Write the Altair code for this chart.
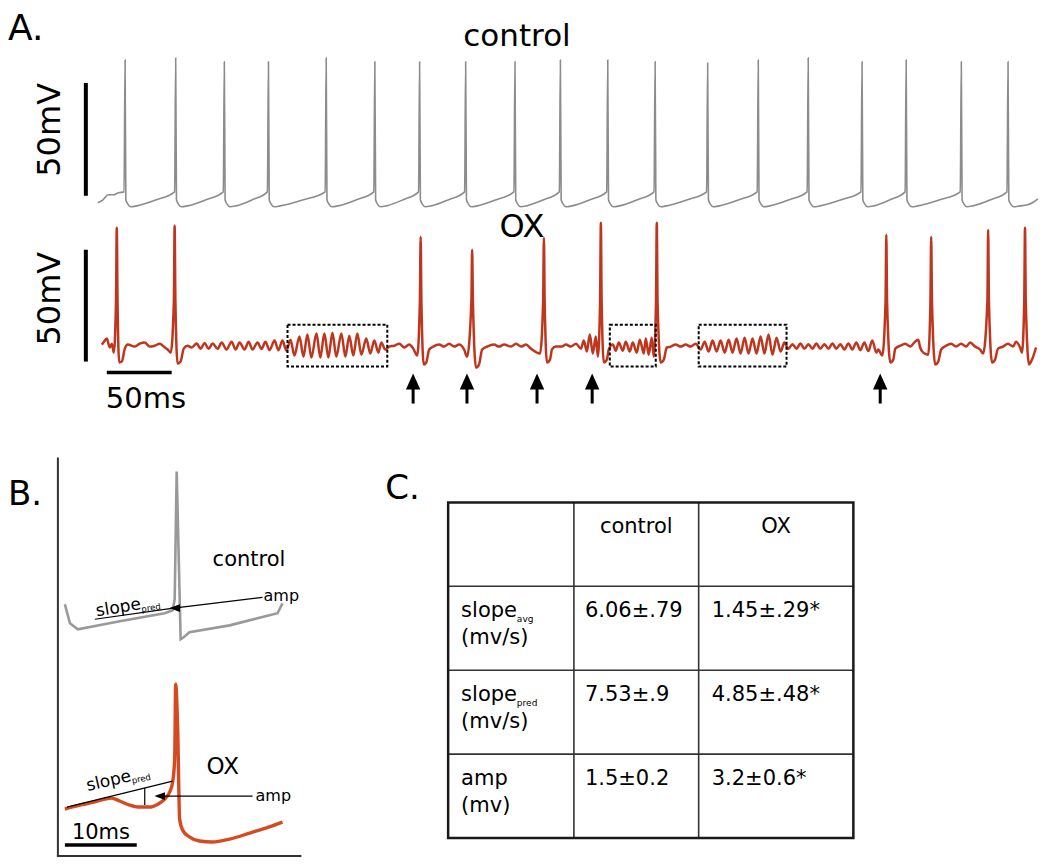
import math
import altair as alt
import pandas as pd

FONT = "DejaVu Sans"

# ---------------- Panel A : control trace (ms, mV) ----------------
CTRL_SPIKE_T = [21, 60, 97.5, 131.5, 176, 213.5, 248, 283.5, 321.5, 356.5,
                393, 429.5, 470, 509, 547.5, 589, 623, 665.5, 701.5]
CTRL_SPIKE_PEAK = [0.0, 0.9, -0.8, -0.8, 0.9, -0.8, -0.8, -0.8, -0.8, 0.0,
                   0.0, -0.8, -1.3, 0.0, 0.9, -0.8, 0.0, -0.8, -0.8]
CTRL_START_T = [0, 4, 8, 12, 16]
CTRL_START_V = [-63.2, -61.9, -59.7, -59.7, -58.8]
CTRL_THRESHOLD = -58.4
CTRL_AHP_DT = [0.6, 2.0, 4.5, 9.0]
CTRL_AHP_V = [-61.9, -63.7, -65.0, -64.6]
CTRL_RAMP_MID_V = -62.0
CTRL_END_T = [716, 721, 724.5]
CTRL_END_V = [-64.2, -63.0, -61.5]

# ---------------- Panel A : OX trace (ms, mV) ----------------
OX_SPIKE_T = [14.6, 59.2, 248.8, 288.5, 343.8, 387.7, 430.8, 607.7, 642.3, 686.2, 714.6]
OX_SPIKE_PEAK = [-6.9, -6.0, -10.9, -16.7, -11.3, -4.6, -4.6, -10.0, -10.9, -7.8, -6.9]
OX_SPIKE_HALF_DT = 0.6      # half width of the spike at about -40 mV
OX_SPIKE_HALF_V = -40.0
OX_T = [3.1, 5.4, 6.9, 9.2, 10.8, 12.3, 16.5, 18.5, 20.8, 23.1,
        28.5, 32.3, 36.2, 40.0, 43.8, 47.7, 50.8, 53.8, 56.2,
        61.5, 63.8, 66.2, 69.2,
        72.3, 76.2, 79.2, 82.3, 85.4, 88.5, 92.3, 95.4, 99.2, 103.1, 106.2, 109.2,
        113.1, 116.2, 119.2, 123.1, 126.2, 129.2, 132.3, 136.2, 139.2, 142.3, 145.4,
        148.5, 151.5, 155.4, 158.5, 161.5, 164.6, 168.5, 171.5, 174.6, 177.7, 180.8,
        183.8, 187.7, 190.8, 193.8, 196.9, 200.0, 203.1, 206.9, 210.0, 213.1, 216.2,
        218.5, 221.5,
        224.6, 228.5, 232.3, 236.2, 240.0, 243.1, 246.2,
        251.2, 253.1, 255.4, 258.5,
        263.1, 266.9, 270.8, 274.6, 278.5, 282.3, 284.6,
        291.5, 293.8, 296.2, 300.0,
        305.4, 309.2, 313.1, 318.5, 322.3, 326.2, 330.0, 333.8, 340.8,
        346.2, 348.5, 350.0, 353.1,
        357.7, 360.8, 364.6, 368.5, 372.3, 374.6, 376.9, 379.2, 381.5, 383.8, 385.4,
        390.0, 392.3, 393.8,
        396.9, 399.2, 401.5, 404.6, 406.9, 410.0, 412.3, 415.4, 417.7, 420.8, 422.3,
        424.6, 426.9, 428.5,
        433.8, 436.2, 438.5,
        441.5, 445.4, 449.2, 453.1, 456.9, 460.8,
        464.6, 467.7, 470.8, 473.8, 476.9, 480.0, 483.1, 486.2, 489.2, 492.3, 495.4,
        498.5, 501.5, 504.6, 507.7, 510.8, 513.8, 516.9, 520.0, 523.1, 526.2, 529.2,
        532.3, 535.4, 538.5, 541.5, 544.6, 547.7, 550.8, 553.8, 556.9, 560.0, 563.1,
        566.2, 569.2, 572.3, 575.4, 578.5, 581.5, 584.6, 587.7, 590.8, 593.8, 596.9,
        600.0, 601.5, 604.6,
        610.8, 613.1, 614.6,
        618.5, 622.3, 626.2, 629.2, 632.3, 633.8, 636.2, 640.0,
        645.4, 647.7, 650.0,
        653.8, 657.7, 661.5, 665.4, 669.2, 672.3, 676.2, 680.0, 682.3,
        689.2, 691.5, 693.8,
        697.7, 701.5, 705.4, 707.7, 710.8, 712.3,
        717.7, 720.0, 723.1]
OX_V = [-59.1, -57.3, -56.4, -60.4, -58.7, -62.7, -67.1, -66.7, -60.9, -59.1,
        -60.0, -58.7, -58.2, -60.0, -59.6, -58.7, -60.0, -61.3, -62.7,
        -67.6, -66.7, -60.9, -59.6,
        -60.4, -58.6, -61.0, -58.4, -61.0, -58.6, -61.0, -58.2, -61.3, -57.8, -61.3, -58.2,
        -61.3, -57.8, -61.3, -58.2, -61.0, -57.8, -61.6, -57.3, -61.6, -57.3, -61.8,
        -56.9, -64.0, -55.5, -64.5, -54.6, -64.9, -54.2, -64.9, -54.2, -64.9, -53.8,
        -64.5, -54.2, -64.5, -55.1, -64.0, -54.2, -63.6, -56.4, -63.1, -57.3, -62.7,
        -58.2, -61.3,
        -60.0, -59.6, -58.7, -60.4, -59.1, -60.9, -64.0,
        -68.0, -67.1, -61.3, -60.0,
        -59.1, -60.0, -58.7, -60.0, -59.1, -61.3, -64.5,
        -69.4, -68.0, -61.3, -60.0,
        -59.1, -60.0, -59.1, -60.0, -58.7, -60.0, -59.1, -60.9, -63.1,
        -67.1, -65.8, -61.3, -60.0,
        -60.0, -59.1, -60.0, -58.7, -60.9, -57.3, -62.2, -54.6, -63.1, -55.5, -64.5,
        -67.1, -65.8, -61.3,
        -59.1, -61.8, -58.2, -61.8, -57.8, -62.2, -58.2, -62.7, -56.9, -63.1, -56.4,
        -63.6, -56.0, -64.5,
        -67.1, -65.8, -60.4,
        -60.0, -59.1, -60.0, -59.1, -60.0, -58.7,
        -61.3, -57.8, -62.2, -57.3, -62.2, -57.3, -62.7, -56.9, -62.7, -56.4, -63.1,
        -56.0, -63.1, -56.4, -63.1, -55.5, -63.1, -54.6, -63.6, -56.0, -62.2, -58.2,
        -61.0, -58.9, -61.0, -58.6, -61.0, -58.9, -61.0, -58.6, -61.0, -58.9, -61.0,
        -58.6, -61.0, -58.9, -61.3, -58.6, -61.3, -58.2, -61.6, -58.2, -62.0, -57.3,
        -62.7, -61.3, -64.0,
        -67.1, -65.8, -60.9,
        -59.6, -58.7, -60.0, -58.2, -56.9, -60.4, -62.7, -63.6,
        -68.0, -66.7, -61.3,
        -59.6, -58.7, -60.0, -58.7, -60.0, -58.2, -60.0, -61.3, -63.1,
        -67.1, -65.8, -60.9,
        -60.0, -58.7, -60.0, -57.8, -60.4, -62.7,
        -68.0, -65.8, -60.4]
OX_ARROW_T = [243.0, 284.5, 338.5, 381.0, 603.0]
OX_BOX_START = [146.2, 394.6, 463.1]
OX_BOX_END = [223.1, 430.0, 530.8]

# ---------------- Panel B : averaged spikes (ms, mV) ----------------
B_CTRL_T = [0.97, 1.67, 2.78, 8.6, 14.86, 15.97, 16.25, 16.53, 17.08, 17.5, 18.3, 23.9, 30.56, 31.25]
B_CTRL_V = [-54.7, -62.5, -65.0, -61.7, -58.4, -57.2, -52.7, 0.0, -69.1, -68.3, -66.2, -63.4, -58.4, -54.3]
B_OX_T = [0.97, 3.06, 5.14, 6.53, 7.5, 8.6, 10.0, 11.4, 12.8, 13.9, 14.86, 15.56, 15.97,
          16.25, 16.39, 16.67, 16.94, 17.36, 18.3, 19.7, 21.5, 23.9, 26.7, 29.4, 31.25]
B_OX_V = [-51.4, -49.8, -48.5, -47.3, -46.9, -48.1, -49.8, -50.6, -50.6, -49.4, -47.3, -44.4, -40.3,
          -30.8, 0.0, -18.5, -55.5, -60.1, -62.9, -64.6, -65.0, -63.8, -61.3, -58.8, -56.8]

# ---------------- Panel C : table ----------------
TABLE_COLS = ["control", "OX"]
TABLE_ROW_NAMES = ["slope", "slope", "amp"]
TABLE_ROW_SUBS = ["avg", "pred", ""]
TABLE_ROW_UNITS = ["(mv/s)", "(mv/s)", "(mv)"]
TABLE_CONTROL = ["6.06±.79", "7.53±.9", "1.5±0.2"]
TABLE_OX = ["1.45±.29*", "4.85±.48*", "3.2±0.6*"]

# ---------------- helpers ----------------
XS = alt.Scale(domain=[8, 1042], nice=False, zero=False)
YS = alt.Scale(domain=[8, 858], reverse=True, nice=False, zero=False)


def X(f="x"):
    return alt.X(f, type="quantitative", scale=XS, axis=None)


def Y(f="y"):
    return alt.Y(f, type="quantitative", scale=YS, axis=None)


def one(**kw):
    return pd.DataFrame({k: [v] for k, v in kw.items()})


def text(s, x, y, size, align="left", baseline="alphabetic", angle=0, color="black"):
    return alt.Chart(one(x=x, y=y)).mark_text(
        text=s, font=FONT, fontSize=size, align=align, baseline=baseline,
        angle=angle % 360, color=color).encode(x=X(), y=Y())


def seg(x1, y1, x2, y2, w, color="black"):
    return alt.Chart(one(x=x1, y=y1, x2=x2, y2=y2)).mark_rule(
        strokeWidth=w, color=color).encode(x=X(), y=Y(), x2=alt.X2("x2"), y2=alt.Y2("y2"))


def sym(x, y, shape, size, color="black"):
    return alt.Chart(one(x=x, y=y)).mark_point(
        shape=shape, size=size, filled=True, opacity=1, color=color, strokeWidth=0).encode(x=X(), y=Y())


layers = []

# ---- control trace A ----
ct, cv = list(CTRL_START_T), list(CTRL_START_V)
for k, (ts, pk) in enumerate(zip(CTRL_SPIKE_T, CTRL_SPIKE_PEAK)):
    ct += [ts - 0.8, ts]
    cv += [CTRL_THRESHOLD, pk]
    ct += [ts + d for d in CTRL_AHP_DT]
    cv += CTRL_AHP_V
    if k + 1 < len(CTRL_SPIKE_T):
        ct.append((ts + 9 + CTRL_SPIKE_T[k + 1] - 0.8) / 2)
        cv.append(CTRL_RAMP_MID_V)
ct += CTRL_END_T
cv += CTRL_END_V
ctrl_df = pd.DataFrame({"t": ct, "v": cv, "i": range(len(ct))})
layers.append(alt.Chart(ctrl_df).transform_calculate(
    px="98 + 1.3 * datum.t", py="207 - (datum.v + 65) * 2.26"
).mark_line(color="#8c8c8c", strokeWidth=1.6, interpolate="monotone").encode(
    x=X("px"), y=Y("py"), order=alt.Order("i:Q")))

# ---- OX trace A ----
ox_pts = list(zip(OX_T, OX_V)) + list(zip(OX_SPIKE_T, OX_SPIKE_PEAK))
ox_pts += [(t - OX_SPIKE_HALF_DT, OX_SPIKE_HALF_V) for t in OX_SPIKE_T]
ox_pts += [(t + OX_SPIKE_HALF_DT, OX_SPIKE_HALF_V) for t in OX_SPIKE_T]
ox_pts = sorted(ox_pts)
ox_df = pd.DataFrame({"t": [p[0] for p in ox_pts], "v": [p[1] for p in ox_pts], "i": range(len(ox_pts))})
layers.append(alt.Chart(ox_df).transform_calculate(
    px="98 + 1.3 * datum.t", py="347 - (datum.v + 60) * 2.24"
).mark_line(color="#bf361e", strokeWidth=2.5, interpolate="monotone").encode(
    x=X("px"), y=Y("py"), order=alt.Order("i:Q")))

# dotted boxes
box_df = pd.DataFrame({"t0": OX_BOX_START, "t1": OX_BOX_END})
layers.append(alt.Chart(box_df).transform_calculate(
    x0="98 + 1.3 * datum.t0", x1="98 + 1.3 * datum.t1", y0="325", y1="367"
).mark_rect(fillOpacity=0, stroke="black", strokeWidth=2, strokeDash=[3, 2]).encode(
    x=X("x0"), x2=alt.X2("x1"), y=Y("y0"), y2=alt.Y2("y1")))

# arrows
arr_df = pd.DataFrame({"t": OX_ARROW_T})
layers.append(alt.Chart(arr_df).transform_calculate(
    px="98 + 1.3 * datum.t", y0="389", y1="404"
).mark_rule(strokeWidth=3, color="black").encode(x=X("px"), y=Y("y0"), y2=alt.Y2("y1")))
layers.append(alt.Chart(arr_df).transform_calculate(
    px="98 + 1.3 * datum.t", py="382"
).mark_point(shape="M0,-1L-0.9,1L0.9,1Z", size=256, filled=True, opacity=1,
             color="black", strokeWidth=0).encode(x=X("px"), y=Y("py")))

# scale bars and labels panel A
layers += [
    seg(86, 83, 86, 196, 4),
    seg(86, 250, 86, 362, 4),
    seg(107, 373, 172, 373, 3.5),
    text("A.", 8, 40, 36),
    text("control", 518, 46, 31, align="center"),
    text("OX", 523, 237, 32, align="center"),
    text("50mV", 50, 130, 32, align="center", baseline="middle", angle=-90),
    text("50mV", 50, 299, 32, align="center", baseline="middle", angle=-90),
    text("50ms", 106, 408, 29),
]

# ---- Panel B ----
bc_df = pd.DataFrame({"t": B_CTRL_T, "v": B_CTRL_V, "i": range(len(B_CTRL_T))})
layers.append(alt.Chart(bc_df).transform_calculate(
    px="58 + 7.2 * datum.t", py="630 - (datum.v + 65) * 2.43"
).mark_line(color="#999999", strokeWidth=2.6).encode(x=X("px"), y=Y("py"), order=alt.Order("i:Q")))
bo_df = pd.DataFrame({"t": B_OX_T, "v": B_OX_V, "i": range(len(B_OX_T))})
layers.append(alt.Chart(bo_df).transform_calculate(
    px="58 + 7.2 * datum.t", py="843 - (datum.v + 65) * 2.43"
).mark_line(color="#d64a22", strokeWidth=3.4, interpolate="monotone").encode(
    x=X("px"), y=Y("py"), order=alt.Order("i:Q")))


def rot_sub(x, y, main, sub, size, angle_deg):
    a = math.radians(angle_deg)
    w = 2.66 * size
    sx = x + w * math.cos(a) + 3 * math.sin(a)
    sy = y - w * math.sin(a) + 3 * math.cos(a)
    return [text(main, x, y, size, angle=-angle_deg),
            text(sub, sx, sy, size * 0.5, angle=-angle_deg)]


layers += [
    seg(58, 458, 58, 858, 2, "#333333"),
    seg(57, 857, 302, 857, 2, "#333333"),
    seg(65, 846, 137, 846, 3.5),
    text("B.", 8, 506, 34),
    text("control", 213, 567, 21),
    text("OX", 207, 775, 23),
    text("10ms", 72, 840, 21),
    # control annotations
    seg(95, 620, 172, 609, 1.2),
    seg(263, 598, 176, 608.5, 1.2),
    sym(175, 608.8, "M-1,0L1,-0.75L1,0.75Z", 110),
    text("amp", 264, 597, 16, baseline="middle"),
    # OX annotations
    seg(67, 808, 173, 782, 1.2),
    seg(145, 789, 145, 806, 1.2),
    seg(253, 797, 162, 797, 1.2),
    sym(160, 797, "M-1,0L1,-0.75L1,0.75Z", 110),
    text("amp", 256, 797, 16, baseline="middle"),
]
layers += rot_sub(97, 617, "slope", "pred", 17, 9)
layers += rot_sub(88, 792, "slope", "pred", 17, 13)

# ---- Panel C table ----
XL = [449, 575, 700, 855]
YL = [503, 587, 671, 755, 839]
layers.append(text("C.", 386, 500, 34))
for x in XL[1:-1]:
    layers.append(seg(x, YL[0], x, YL[-1], 1.6, "#333333"))
for y in YL[1:-1]:
    layers.append(seg(XL[0], y, XL[-1], y, 1.6, "#333333"))
layers.append(alt.Chart(one(x=XL[0], y=YL[0], x2=XL[-1], y2=YL[-1])).mark_rect(
    fillOpacity=0, stroke="#1a1a1a", strokeWidth=2.5).encode(x=X(), y=Y(), x2=alt.X2("x2"), y2=alt.Y2("y2")))
TS = 21
for j, col in enumerate(TABLE_COLS):
    layers.append(text(col, (XL[j + 1] + XL[j + 2]) / 2, YL[0] + 25, TS, align="center", baseline="middle"))
for r in range(3):
    y0 = YL[r + 1]
    layers.append(text(TABLE_ROW_NAMES[r], XL[0] + 13, y0 + 25, TS, baseline="middle"))
    if TABLE_ROW_SUBS[r]:
        layers.append(text(TABLE_ROW_SUBS[r], XL[0] + 13 + 2.66 * TS, y0 + 33, 9, baseline="middle"))
    layers.append(text(TABLE_ROW_UNITS[r], XL[0] + 13, y0 + 52, TS, baseline="middle"))
    layers.append(text(TABLE_CONTROL[r], XL[1] + 11, y0 + 25, TS, baseline="middle"))
    layers.append(text(TABLE_OX[r], XL[2] + 13, y0 + 25, TS, baseline="middle"))

chart = alt.layer(*layers).properties(
    width=1034, height=850,
    autosize=alt.AutoSizeParams(type="fit", contains="padding"),
    padding=0,
    background="white",
).configure_view(stroke=None)

chart.save("out.html", embed_options={"renderer": "svg", "actions": False})
